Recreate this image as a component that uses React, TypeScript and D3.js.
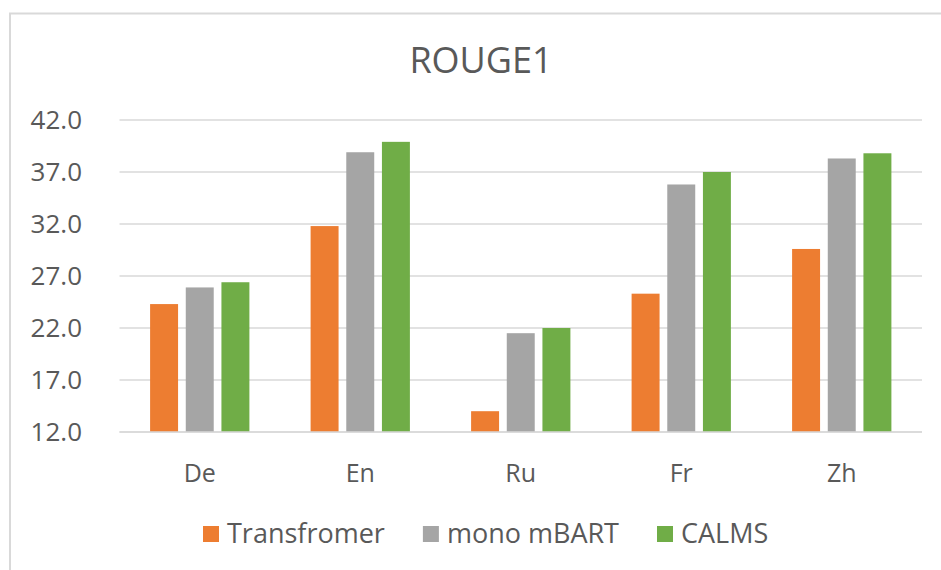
import React, { useEffect, useRef } from "react";
import * as d3 from "d3";

const languages = ["De", "En", "Ru", "Fr", "Zh"];
const seriesNames = ["Transfromer", "mono mBART", "CALMS"];
const transformerScores = [24.3, 31.8, 14.0, 25.3, 29.6];
const monoMbartScores = [25.9, 38.9, 21.5, 35.8, 38.3];
const calmsScores = [26.4, 39.9, 22.0, 37.0, 38.8];
const yTicks = [12, 17, 22, 27, 32, 37, 42];
const colors = ["#ED7D31", "#A5A5A5", "#70AD47"];

const FONT = "'Open Sans', sans-serif";
const TEXT = "#595959";

export default function App() {
  const ref = useRef<SVGSVGElement>(null);

  useEffect(() => {
    const svg = d3.select(ref.current);
    svg.selectAll("*").remove();

    const width = 941;
    const height = 570;
    const plot = { left: 119.5, right: 922, top: 120, bottom: 432 };

    const allSeries = [transformerScores, monoMbartScores, calmsScores];
    const rows = languages.map((lang, i) => ({
      lang,
      values: allSeries.map((s, j) => ({ name: seriesNames[j], value: s[i], idx: j })),
    }));

    // chart area frame (right/bottom edges fall outside the picture)
    svg
      .append("rect")
      .attr("x", 10)
      .attr("y", 13.5)
      .attr("width", 1000)
      .attr("height", 700)
      .attr("fill", "#fff")
      .attr("stroke", "#D9D9D9")
      .attr("stroke-width", 2);

    svg
      .append("text")
      .attr("x", 481)
      .attr("y", 72.5)
      .attr("text-anchor", "middle")
      .attr("font-family", FONT)
      .attr("font-size", 36)
      .attr("fill", TEXT)
      .text("ROUGE1");

    const x0 = d3
      .scaleBand()
      .domain(languages)
      .range([plot.left, plot.right])
      .padding(0);

    const x1 = d3
      .scaleBand()
      .domain(seriesNames)
      .range([0, x0.bandwidth()])
      .paddingInner(0.216)
      .paddingOuter(0.858);

    const y = d3.scaleLinear().domain([12, 42]).range([plot.bottom, plot.top]);

    // gridlines
    svg
      .append("g")
      .selectAll("line")
      .data(yTicks)
      .join("line")
      .attr("x1", plot.left)
      .attr("x2", plot.right)
      .attr("y1", (d) => y(d))
      .attr("y2", (d) => y(d))
      .attr("stroke", "#D9D9D9")
      .attr("stroke-width", 1.5);

    svg
      .append("g")
      .selectAll("text")
      .data(yTicks)
      .join("text")
      .attr("x", 82)
      .attr("y", (d) => y(d))
      .attr("dy", "0.36em")
      .attr("text-anchor", "end")
      .attr("font-family", FONT)
      .attr("font-size", 26)
      .attr("fill", TEXT)
      .text((d) => d.toFixed(1));

    const groups = svg
      .append("g")
      .selectAll("g")
      .data(rows)
      .join("g")
      .attr("transform", (d) => `translate(${x0(d.lang)},0)`);

    groups
      .selectAll("rect")
      .data((d) => d.values)
      .join("rect")
      .attr("x", (d) => x1(d.name)!)
      .attr("width", x1.bandwidth())
      .attr("y", (d) => y(d.value))
      .attr("height", (d) => y(12) - y(d.value))
      .attr("fill", (d) => colors[d.idx]);

    // baseline over the bars
    svg
      .append("line")
      .attr("x1", plot.left)
      .attr("x2", plot.right)
      .attr("y1", y(12))
      .attr("y2", y(12))
      .attr("stroke", "#D9D9D9")
      .attr("stroke-width", 1.5);

    svg
      .append("g")
      .selectAll("text")
      .data(languages)
      .join("text")
      .attr("x", (d) => x0(d)! + x0.bandwidth() / 2)
      .attr("y", 481.5)
      .attr("text-anchor", "middle")
      .attr("font-family", FONT)
      .attr("font-size", 25)
      .attr("fill", TEXT)
      .text((d) => d);

    // legend
    const legend = svg.append("g");
    let cx = 203;
    seriesNames.forEach((name, i) => {
      legend
        .append("rect")
        .attr("x", cx)
        .attr("y", 526)
        .attr("width", 16)
        .attr("height", 16)
        .attr("fill", colors[i]);
      const t = legend
        .append("text")
        .attr("x", cx + 24)
        .attr("y", 542.5)
        .attr("font-family", FONT)
        .attr("font-size", 27)
        .attr("fill", TEXT)
        .text(name);
      const w = (t.node() as SVGTextElement).getComputedTextLength();
      cx += 24 + w + 38;
    });

    svg.attr("width", width).attr("height", height);
  }, []);

  return (
    <svg
      ref={ref}
      width={941}
      height={570}
      style={{ position: "absolute", left: 0, top: 0, background: "#fff" }}
    ></svg>
  );
}
